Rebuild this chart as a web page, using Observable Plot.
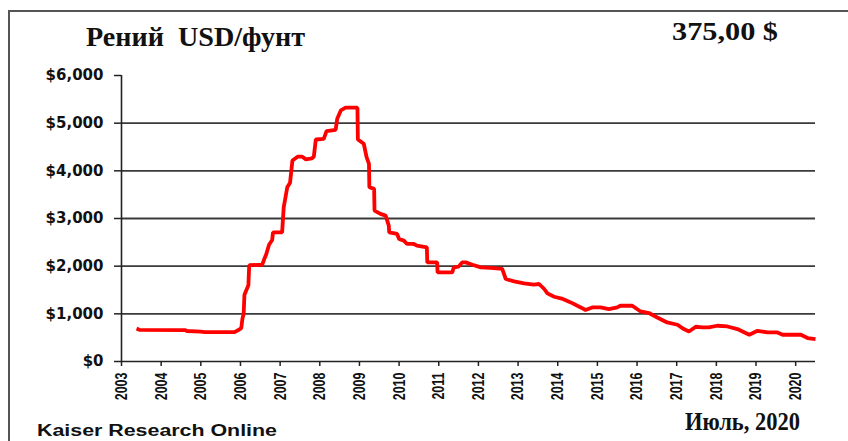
<!DOCTYPE html>
<html>
<head>
<meta charset="utf-8">
<script src="https://cdn.jsdelivr.net/npm/d3@7"></script>
<script src="https://cdn.jsdelivr.net/npm/@observablehq/plot@0.6"></script>
<style>
  html, body { margin: 0; padding: 0; background: #fff; }
  #wrap { position: relative; width: 848px; height: 441px; overflow: hidden; background: #fff; }
  #frame { position: absolute; left: 8px; top: 10px; right: -10px; bottom: -10px;
           border-left: 2px solid #555; border-top: 2px solid #555; }
  .ov { position: absolute; line-height: 1; white-space: pre; font-weight: bold; color: #111;
        transform-origin: 0 0; }
  #chart { position: absolute; left: 0; top: 0; }
  #chart svg text { font-weight: bold; }
</style>
</head>
<body>
<div id="wrap">
  <div id="frame"></div>
  <div id="chart"></div>
</div>
<script>
// ---- data ----
const years = [
  2003.38, 2003.45, 2004.6, 2004.65, 2005.0, 2005.1, 2005.85, 2005.95, 2006.02, 2006.05,
  2006.08, 2006.1, 2006.15, 2006.2, 2006.22, 2006.55, 2006.6, 2006.65, 2006.72, 2006.8,
  2006.82, 2007.05, 2007.09, 2007.18, 2007.25, 2007.31, 2007.45, 2007.55, 2007.65, 2007.8,
  2007.85, 2007.9, 2008.1, 2008.17, 2008.4, 2008.44, 2008.53, 2008.65, 2008.95, 2008.96,
  2009.11, 2009.18, 2009.24, 2009.25, 2009.37, 2009.38, 2009.53, 2009.66, 2009.74, 2009.75,
  2009.95, 2010.0, 2010.12, 2010.2, 2010.37, 2010.45, 2010.7, 2010.71, 2010.96, 2010.97,
  2011.34, 2011.38, 2011.5, 2011.59, 2011.68, 2011.85, 2012.06, 2012.31, 2012.6, 2012.69,
  2012.9, 2013.15, 2013.4, 2013.53, 2013.66, 2013.74, 2013.91, 2014.1, 2014.33, 2014.58,
  2014.7, 2014.87, 2015.08, 2015.29, 2015.5, 2015.58, 2015.88, 2016.09, 2016.3, 2016.51,
  2016.76, 2017.02, 2017.18, 2017.31, 2017.48, 2017.65, 2017.81, 2018.02, 2018.28, 2018.53,
  2018.83, 2019.04, 2019.29, 2019.54, 2019.67, 2020.13, 2020.3, 2020.5
];
const prices = [
  690, 665, 660, 640, 625, 615, 615, 660, 700, 900,
  1000, 1400, 1500, 1600, 2020, 2030, 2150, 2250, 2450, 2550,
  2710, 2710, 3235, 3655, 3750, 4216, 4300, 4300, 4240, 4260,
  4300, 4657, 4672, 4832, 4861, 5092, 5267, 5324, 5324, 4657,
  4567, 4286, 4147, 3655, 3622, 3166, 3097, 3061, 2851, 2710,
  2676, 2571, 2536, 2466, 2466, 2431, 2395, 2080, 2080, 1870,
  1870, 1975, 1990, 2080, 2080, 2031, 1975, 1962, 1941, 1731,
  1681, 1639, 1611, 1626, 1521, 1429, 1359, 1320, 1240, 1134,
  1080, 1134, 1134, 1100, 1134, 1170, 1170, 1050, 1017, 924,
  819, 771, 680, 630, 729, 714, 714, 750, 735, 680,
  561, 645, 609, 609, 561, 561, 492, 470
];
const xTicks = [2003, 2004, 2005, 2006, 2007, 2008, 2009, 2010, 2011, 2012,
                2013, 2014, 2015, 2016, 2017, 2018, 2019, 2020];
const yTicks = [0, 1000, 2000, 3000, 4000, 5000, 6000];
const yGrid = [1000, 2000, 3000, 4000, 5000];

const titleText = "Рений  USD/фунт";
const priceText = "375,00 $";
const dateText = "Июль, 2020";
const sourceText = "Kaiser Research Online";

// ---- chart ----
const data = years.map((y, i) => ({year: y, price: prices[i]}));
const fmt = d3.format(",");

const chart = Plot.plot({
  width: 848,
  height: 441,
  marginLeft: 121,
  marginRight: 33,
  marginTop: 75,
  marginBottom: 80,
  style: { background: "transparent", color: "#111", overflow: "visible" },
  x: { domain: [2003, 2020.5] },
  y: { domain: [0, 6000] },
  marks: [
    Plot.gridY(yGrid, { stroke: "#3a3a3a", strokeOpacity: 1, strokeWidth: 1.8 }),
    Plot.axisY({ ticks: yTicks, tickFormat: d => "$" + fmt(d), tickSize: 7, tickPadding: 11,
                 fontSize: 15, fontFamily: "DejaVu Sans", fontWeight: "bold", label: null,
                 stroke: "#222", strokeWidth: 1.5 }),
    Plot.axisX({ ticks: xTicks, tickFormat: d => String(d), tickRotate: -90, tickSize: 5,
                 tickPadding: 6, fontSize: 12.5, fontFamily: "Liberation Sans", fontWeight: "bold",
                 label: null, stroke: "#222", strokeWidth: 1.5 }),
    Plot.ruleX([2003], { stroke: "#222", strokeWidth: 1.6 }),
    Plot.ruleY([0], { stroke: "#222", strokeWidth: 1.6 }),
    Plot.line(data, { x: "year", y: "price", stroke: "#ff0000", strokeWidth: 3.8,
                      strokeLinejoin: "miter", strokeLinecap: "butt" })
  ]
});
document.getElementById("chart").appendChild(chart);

// thicken rotated year labels (reference glyphs are wider across)
d3.select(chart).selectAll('g[aria-label="x-axis tick label"] text').each(function () {
  const t = this.getAttribute("transform") || "";
  this.setAttribute("transform", t + " scale(1,1.35)");
});

// ---- overlay texts ----
const wrap = document.getElementById("wrap");
function place(text, family, size, left, right, baseline, ascentRatio) {
  const el = document.createElement("div");
  el.className = "ov";
  el.textContent = text;
  el.style.fontFamily = family;
  el.style.fontSize = size + "px";
  el.style.left = left + "px";
  el.style.top = (baseline - ascentRatio * size) + "px";
  wrap.appendChild(el);
  const w = el.getBoundingClientRect().width;
  el.style.transform = "scaleX(" + ((right - left) / w) + ")";
}
place(titleText, "'Liberation Serif'", 27, 86, 305, 47, 0.8375);
place(priceText, "'Liberation Serif'", 26, 672, 778, 41, 0.8375);
place(dateText, "'Liberation Serif'", 25, 685, 800, 430, 0.8375);
place(sourceText, "'Liberation Sans'", 16, 37, 277, 437, 0.8465);
</script>
</body>
</html>
